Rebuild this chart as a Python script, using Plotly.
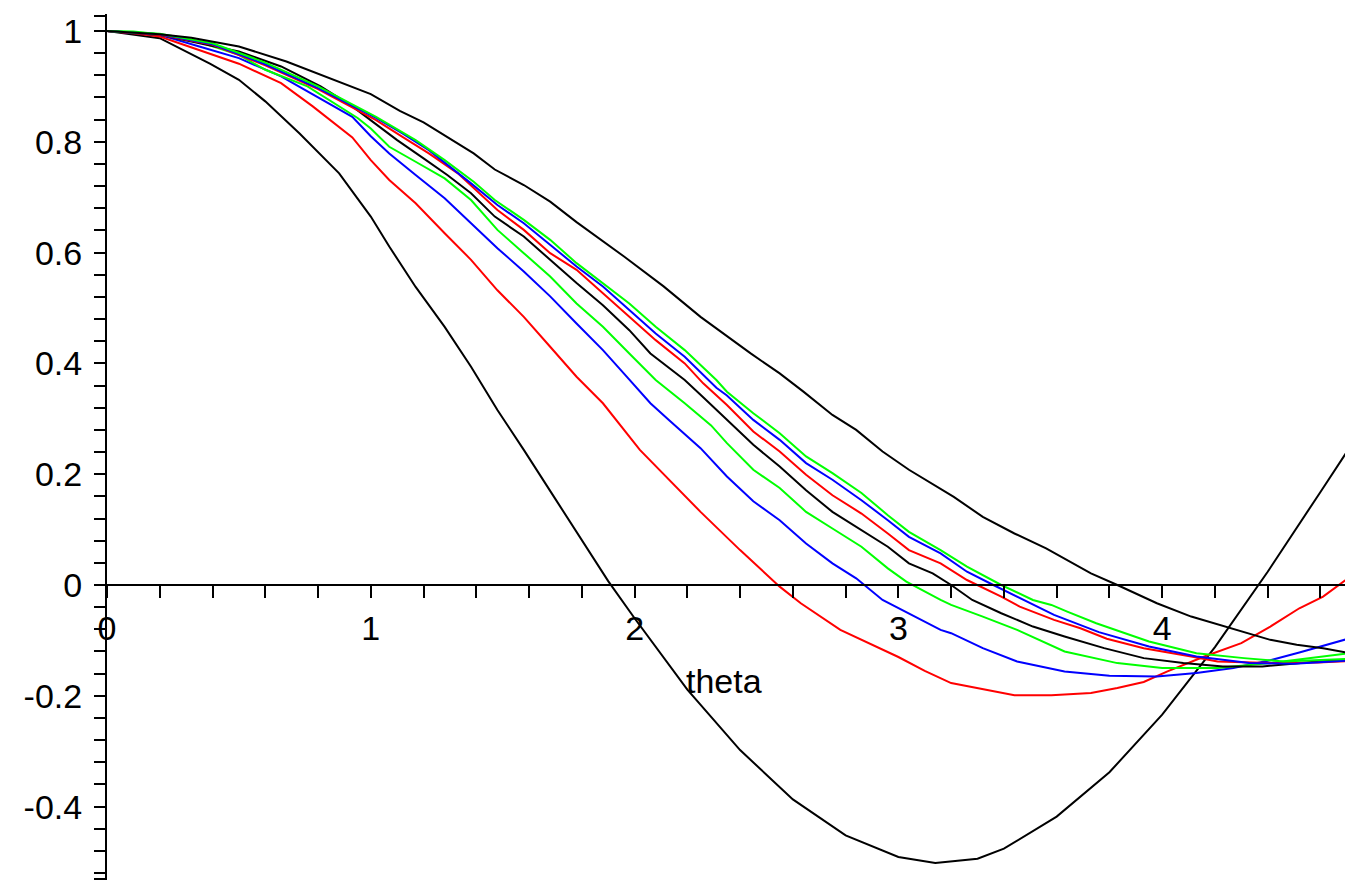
import plotly.graph_objects as go

# ---- data (theta, value) ----
theta_A = [0, 0.2, 0.39, 0.5, 0.6, 0.73, 0.88, 1.0, 1.07, 1.17, 1.28, 1.38, 1.48, 1.58, 1.7, 1.8, 1.9,
           2.0, 2.2, 2.4, 2.6, 2.8, 3.0, 3.14, 3.3, 3.4, 3.6, 3.8, 4.0, 4.2, 4.4, 4.6, 4.712]
y_A = [1.0, 0.987, 0.941, 0.912, 0.873, 0.815, 0.743, 0.665, 0.611, 0.538, 0.466, 0.394, 0.316, 0.244, 0.155,
       0.082, 0.007, -0.06, -0.189, -0.298, -0.387, -0.452, -0.491, -0.502, -0.494, -0.476, -0.418, -0.338,
       -0.234, -0.112, 0.024, 0.168, 0.249]

theta_B = [0, 0.1, 0.2, 0.35, 0.5, 0.66, 0.78, 0.93, 1.0, 1.07, 1.17, 1.28, 1.38, 1.48, 1.58, 1.68, 1.78,
           1.88, 2.02, 2.25, 2.4, 2.55, 2.63, 2.78, 2.9, 3.0, 3.1, 3.2, 3.44, 3.58, 3.73, 3.83, 3.93, 4.02,
           4.16, 4.3, 4.41, 4.52, 4.61, 4.712]
y_B = [1.0, 0.996, 0.99, 0.966, 0.941, 0.906, 0.864, 0.808, 0.767, 0.731, 0.689, 0.635, 0.587, 0.532, 0.484,
       0.43, 0.376, 0.328, 0.244, 0.132, 0.063, -0.003, -0.033, -0.081, -0.108, -0.13, -0.155, -0.177, -0.199,
       -0.199, -0.195, -0.186, -0.175, -0.156, -0.129, -0.105, -0.075, -0.042, -0.021, 0.015]

theta_C = [0, 0.2, 0.35, 0.5, 0.66, 0.78, 0.93, 1.0, 1.07, 1.17, 1.28, 1.38, 1.48, 1.58, 1.68, 1.78, 1.88,
           1.97, 2.06, 2.13, 2.25, 2.35, 2.45, 2.55, 2.65, 2.75, 2.84, 2.94, 3.06, 3.16, 3.2, 3.32, 3.45, 3.63,
           3.8, 3.98, 4.13, 4.27, 4.41, 4.52, 4.712]
y_C = [1.0, 0.993, 0.972, 0.951, 0.918, 0.885, 0.845, 0.81, 0.779, 0.74, 0.698, 0.653, 0.608, 0.566, 0.521,
       0.472, 0.424, 0.376, 0.328, 0.298, 0.247, 0.196, 0.151, 0.117, 0.075, 0.039, 0.012, -0.027, -0.057,
       -0.081, -0.087, -0.114, -0.138, -0.156, -0.164, -0.165, -0.159, -0.15, -0.136, -0.122, -0.096]

theta_D = [0, 0.1, 0.2, 0.35, 0.5, 0.6, 0.76, 0.86, 0.95, 1.0, 1.07, 1.17, 1.28, 1.38, 1.48, 1.58, 1.68,
           1.78, 1.88, 1.98, 2.08, 2.19, 2.29, 2.35, 2.45, 2.55, 2.65, 2.75, 2.86, 2.96, 3.03, 3.16, 3.2, 3.32,
           3.45, 3.63, 3.83, 4.0, 4.21, 4.41, 4.59, 4.712]
y_D = [1.0, 0.999, 0.994, 0.98, 0.957, 0.93, 0.9, 0.87, 0.843, 0.824, 0.791, 0.764, 0.734, 0.695, 0.641,
       0.599, 0.557, 0.508, 0.466, 0.418, 0.37, 0.328, 0.288, 0.256, 0.208, 0.175, 0.132, 0.102, 0.069, 0.03,
       0.006, -0.027, -0.036, -0.057, -0.081, -0.12, -0.141, -0.15, -0.15, -0.141, -0.13, -0.123]

theta_E = [0, 0.2, 0.4, 0.5, 0.66, 0.81, 0.93, 1.0, 1.1, 1.2, 1.29, 1.38, 1.47, 1.58, 1.68, 1.78, 1.88,
           1.98, 2.06, 2.19, 2.26, 2.35, 2.45, 2.55, 2.65, 2.75, 2.86, 2.96, 3.04, 3.13, 3.2, 3.28, 3.39, 3.51,
           3.63, 3.78, 3.93, 4.08, 4.23, 4.38, 4.59, 4.712]
y_E = [1.0, 0.993, 0.973, 0.963, 0.936, 0.9, 0.864, 0.839, 0.803, 0.77, 0.74, 0.707, 0.665, 0.629, 0.587,
       0.545, 0.505, 0.46, 0.418, 0.37, 0.339, 0.298, 0.253, 0.214, 0.171, 0.132, 0.099, 0.069, 0.039, 0.021,
       0.0, -0.027, -0.051, -0.075, -0.093, -0.114, -0.132, -0.141, -0.147, -0.147, -0.138, -0.135]

theta_F = [0, 0.2, 0.4, 0.6, 0.8, 1.02, 1.12, 1.22, 1.33, 1.4, 1.48, 1.58, 1.68, 1.78, 1.88, 1.98, 2.08,
           2.19, 2.26, 2.35, 2.45, 2.55, 2.65, 2.75, 2.86, 2.96, 3.04, 3.16, 3.26, 3.39, 3.46, 3.59, 3.69, 3.79,
           3.93, 4.11, 4.21, 4.41, 4.59, 4.712]
y_F = [1.0, 0.993, 0.975, 0.938, 0.895, 0.839, 0.809, 0.779, 0.743, 0.713, 0.677, 0.641, 0.599, 0.569, 0.527,
       0.484, 0.442, 0.4, 0.364, 0.325, 0.277, 0.241, 0.199, 0.162, 0.129, 0.093, 0.063, 0.039, 0.009, -0.021,
       -0.039, -0.063, -0.078, -0.097, -0.114, -0.129, -0.138, -0.141, -0.14, -0.137]

theta_G = [0, 0.2, 0.4, 0.6, 0.8, 1.02, 1.12, 1.22, 1.38, 1.48, 1.58, 1.68, 1.78, 1.88, 1.98, 2.08, 2.19,
           2.31, 2.35, 2.45, 2.55, 2.65, 2.75, 2.86, 2.96, 3.04, 3.16, 3.26, 3.36, 3.46, 3.59, 3.76, 3.95, 4.13,
           4.33, 4.5, 4.712]
y_G = [1.0, 0.994, 0.976, 0.94, 0.897, 0.843, 0.815, 0.785, 0.725, 0.686, 0.653, 0.614, 0.575, 0.539, 0.496,
       0.454, 0.412, 0.356, 0.342, 0.298, 0.262, 0.22, 0.19, 0.153, 0.117, 0.087, 0.057, 0.024, 0.0, -0.024,
       -0.054, -0.085, -0.111, -0.129, -0.141, -0.142, -0.136]

theta_H = [0, 0.2, 0.4, 0.6, 0.8, 1.02, 1.17, 1.28, 1.39, 1.47, 1.58, 1.68, 1.78, 1.88, 1.98, 2.08, 2.19,
           2.31, 2.35, 2.45, 2.55, 2.65, 2.75, 2.86, 2.96, 3.04, 3.16, 3.26, 3.39, 3.51, 3.58, 3.64, 3.75, 3.95,
           4.13, 4.31, 4.46, 4.712]
y_H = [1.0, 0.995, 0.978, 0.943, 0.9, 0.845, 0.803, 0.767, 0.728, 0.695, 0.659, 0.623, 0.581, 0.545, 0.508,
       0.466, 0.424, 0.37, 0.349, 0.31, 0.274, 0.232, 0.202, 0.166, 0.126, 0.096, 0.063, 0.033, 0.0, -0.027,
       -0.036, -0.048, -0.069, -0.102, -0.123, -0.132, -0.138, -0.133]

theta_I = [0, 0.2, 0.32, 0.5, 0.68, 0.83, 1.0, 1.11, 1.2, 1.39, 1.47, 1.58, 1.68, 1.78, 1.96, 2.11, 2.25,
           2.44, 2.55, 2.64, 2.75, 2.84, 2.94, 3.04, 3.21, 3.32, 3.44, 3.56, 3.73, 3.83, 3.98, 4.11, 4.26, 4.41,
           4.51, 4.61, 4.712]
y_I = [1.0, 0.994, 0.988, 0.972, 0.945, 0.918, 0.886, 0.856, 0.835, 0.779, 0.75, 0.722, 0.692, 0.655, 0.593,
       0.539, 0.484, 0.418, 0.382, 0.349, 0.307, 0.28, 0.241, 0.208, 0.159, 0.123, 0.093, 0.066, 0.021, 0.0,
       -0.033, -0.057, -0.078, -0.099, -0.108, -0.114, -0.123]

series = [(theta_A, y_A), (theta_B, y_B), (theta_C, y_C), (theta_D, y_D), (theta_E, y_E),
          (theta_F, y_F), (theta_G, y_G), (theta_H, y_H), (theta_I, y_I)]
colors = ["#000000", "#FF0000", "#0000FF", "#00FF00"]

x_major = [0, 1, 2, 3, 4]
x_major_text = ["0", "1", "2", "3", "4"]
y_major = [-0.4, -0.2, 0, 0.2, 0.4, 0.6, 0.8, 1]
y_major_text = ["-0.4", "-0.2", "0", "0.2", "0.4", "0.6", "0.8", "1"]

X_MAX = 4.712
Y_MIN, Y_MAX = -0.5325, 1.0307

x_minor = [round(0.2 * k, 2) for k in range(0, 24)] + [X_MAX]
y_minor = [round(0.04 * k, 2) for k in range(-13, 26)] + [1.028, -0.531]

fig = go.Figure()
for i, (tx, ty) in enumerate(series):
    fig.add_trace(go.Scatter(x=tx, y=ty, mode="lines",
                             line=dict(color=colors[i % 4], width=2),
                             hoverinfo="skip"))

fig.add_annotation(x=2.34, y=-0.173, xref="x", yref="y", text="theta", showarrow=False,
                   font=dict(size=34, color="black", family="Liberation Sans, Arial, sans-serif"))

# page body has an 8px default margin, so the figure is sized 8px smaller
fig.update_layout(
    width=1345, height=874,
    margin=dict(l=99, r=3, t=6, b=2),
    plot_bgcolor="white", paper_bgcolor="white",
    showlegend=False,
    font=dict(family="Liberation Sans, Arial, sans-serif", size=34, color="black"),
    xaxis=dict(range=[0, X_MAX], showgrid=False, zeroline=False,
               showline=True, linecolor="black", linewidth=2,
               anchor="free", position=(0 - Y_MIN) / (Y_MAX - Y_MIN),
               ticks="outside", ticklen=12, tickwidth=2, tickcolor="black",
               tickmode="array", tickvals=x_major, ticktext=x_major_text,
               ticklabelstandoff=1,
               minor=dict(tickmode="array", tickvals=x_minor, ticks="outside",
                          ticklen=12, tickwidth=2, tickcolor="black")),
    yaxis=dict(range=[Y_MIN, Y_MAX], showgrid=False, zeroline=False,
               showline=True, linecolor="black", linewidth=2,
               ticks="outside", ticklen=11, tickwidth=2, tickcolor="black",
               tickmode="array", tickvals=y_major, ticktext=y_major_text,
               ticklabelstandoff=5,
               minor=dict(tickmode="array", tickvals=y_minor, ticks="outside",
                          ticklen=11, tickwidth=2, tickcolor="black")),
)

fig.write_html("out.html")
